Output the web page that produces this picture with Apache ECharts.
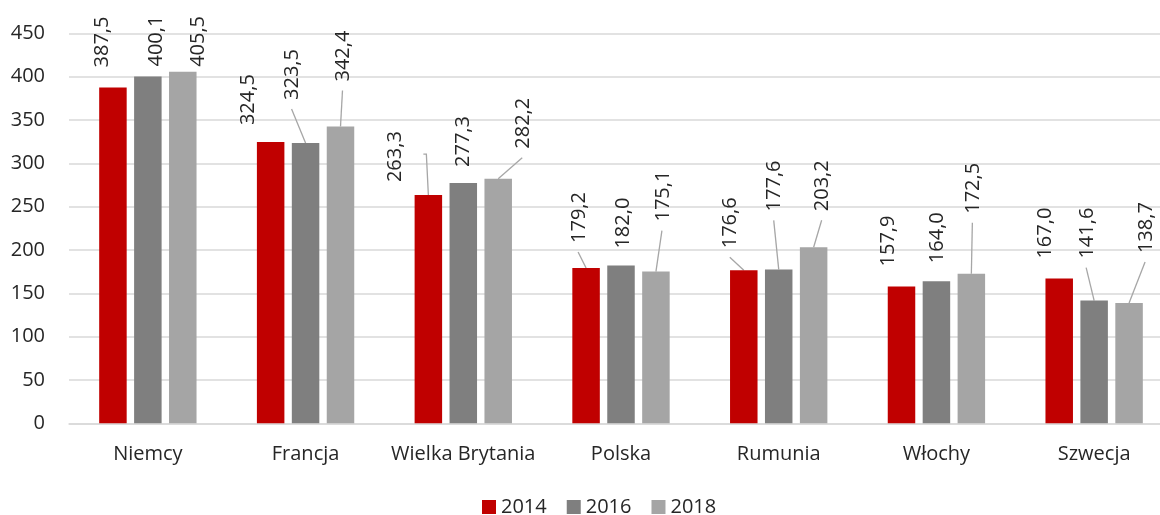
<!DOCTYPE html>
<html>
<head>
<meta charset="utf-8">
<script src="https://cdn.jsdelivr.net/npm/echarts@6/dist/echarts.min.js"></script>
<style>html,body{margin:0;padding:0;background:#fff}#c{width:1160px;height:515px}</style>
</head>
<body>
<div id="c"></div>
<script>
const categories = ['Niemcy', 'Francja', 'Wielka Brytania', 'Polska', 'Rumunia', 'Włochy', 'Szwecja'];
const years = ['2014', '2016', '2018'];
const v2014 = [387.5, 324.5, 263.3, 179.2, 176.6, 157.9, 167.0];
const v2016 = [400.1, 323.5, 277.3, 182.0, 177.6, 164.0, 141.6];
const v2018 = [405.5, 342.4, 282.2, 175.1, 203.2, 172.5, 138.7];
const yTicks = [0, 50, 100, 150, 200, 250, 300, 350, 400, 450];

// label placement (screen pixel shifts of the rotated labels, as in the original)
const labelShift = [
  [[-11, -20], [-22, -17], [-33, -13], [-7, -25], [-13, -22], [-13, -20], [-14, -20]],
  [[8, -10], [-13, -43], [0, -16], [2, -17], [-4, -58], [1, -18], [-7, -42]],
  [[16, -5], [3, -45], [25, -30], [7, -50], [9, -36], [2, -60], [17, -50]]
];
// leader line kind: 0 none, 1 straight, 2 elbow
const leader = [
  [0, 0, 2, 1, 1, 0, 0],
  [0, 1, 0, 0, 1, 0, 1],
  [0, 1, 1, 1, 1, 1, 1]
];
const colors = ['#C00000', '#7F7F7F', '#A5A5A5'];
const FONT = 'Open Sans';
const TXT = '#262626';
const BAR_W = 27.5;
const BAR_GAP = 0.27;
const BAR_STEP = BAR_W * (1 + BAR_GAP);

const seriesValues = [v2014, v2016, v2018];
const chart = echarts.init(document.getElementById('c'), null, {renderer: 'canvas'});

const series = years.map((y, si) => ({
  name: y,
  type: 'bar',
  barWidth: BAR_W,
  barGap: (BAR_GAP * 100) + '%',
  itemStyle: {color: colors[si]},
  emphasis: {disabled: true},
  data: seriesValues[si],
  label: {
    show: true,
    position: 'top',
    distance: 0,
    rotate: 90,
    align: 'left',
    verticalAlign: 'middle',
    fontSize: 20,
    fontFamily: FONT,
    color: TXT,
    formatter: p => p.value.toFixed(1).replace('.', ',')
  },
  labelLayout: function (p) {
    const s = labelShift[p.seriesIndex][p.dataIndex];
    // offset is applied in the label's rotated frame (90° CCW)
    return {dx: -s[1], dy: s[0]};
  }
}));

// leader lines from bar top to the displaced labels
const leaderData = [];
seriesValues.forEach((vals, si) => vals.forEach((v, i) => {
  if (leader[si][i]) leaderData.push([i, v, si, leader[si][i]]);
}));
series.push({
  type: 'custom',
  silent: true,
  z: 1,
  data: leaderData,
  renderItem: function (params, api) {
    const cat = api.value(0), val = api.value(1), si = api.value(2), kind = api.value(3);
    const p = api.coord([cat, val]);
    const bx = p[0] + (si - 1) * BAR_STEP;
    const by = p[1];
    const s = labelShift[si][cat];
    let pts;
    if (kind === 2) {
      const my = by + s[1] - 28;
      pts = [[bx, by], [bx - 2, my], [bx - 5, my]];
    } else {
      pts = [[bx, by], [bx + s[0] - 1, by + s[1] + 9]];
    }
    return {
      type: 'polyline',
      shape: {points: pts},
      style: {stroke: '#A6A6A6', lineWidth: 1.3, fill: null}
    };
  }
});

chart.setOption({
  animation: false,
  backgroundColor: '#fff',
  grid: {left: 69, top: 33.3, width: 1104, height: 390, containLabel: false, outerBoundsMode: 'none'},
  legend: {
    data: years,
    top: 492,
    left: 477,
    icon: 'rect',
    itemWidth: 14,
    itemHeight: 14,
    itemGap: 20,
    textStyle: {fontSize: 20, fontFamily: FONT, color: TXT}
  },
  xAxis: {
    type: 'category',
    data: categories,
    axisTick: {show: false},
    axisLine: {lineStyle: {color: '#D9D9D9', width: 1.5}},
    axisLabel: {fontSize: 20, fontFamily: FONT, color: TXT, margin: 21, interval: 0}
  },
  yAxis: {
    type: 'value',
    min: yTicks[0],
    max: yTicks[yTicks.length - 1],
    interval: yTicks[1] - yTicks[0],
    axisLine: {show: false},
    axisTick: {show: false},
    splitLine: {lineStyle: {color: '#D9D9D9', width: 1.5}},
    axisLabel: {fontSize: 20, fontFamily: FONT, color: TXT, margin: 24}
  },
  series: series
});
</script>
</body>
</html>
